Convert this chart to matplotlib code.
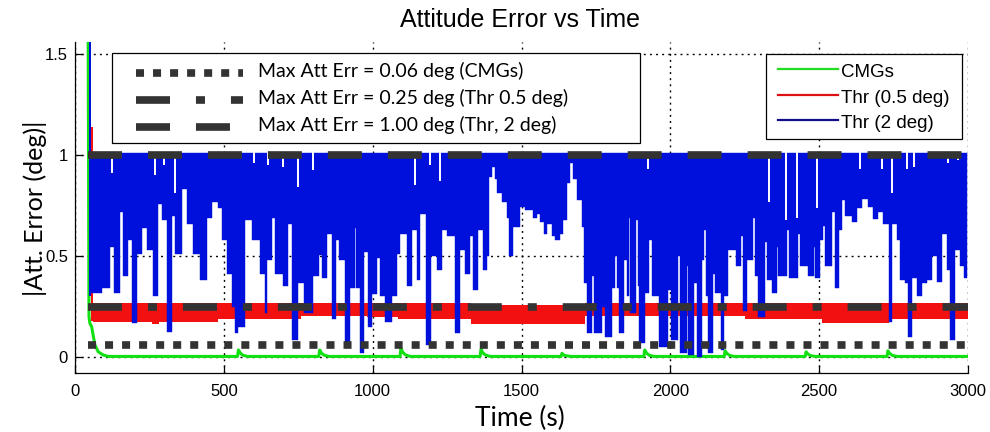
import matplotlib.pyplot as plt
from matplotlib.lines import Line2D
from matplotlib.patches import Rectangle

# =========================================================
# data
# =========================================================
# CMGs attitude error (green line)
cmg_t = [44, 47, 50, 56, 62, 67, 78, 95, 112,
         546, 549, 555, 564, 580,
         819, 822, 828, 837, 853,
         1092, 1095, 1101, 1110, 1126,
         1361, 1364, 1370, 1379, 1395,
         1633, 1636, 1642, 1651, 1667,
         1911, 1914, 1920, 1929, 1945,
         2181, 2184, 2190, 2199, 2215,
         2453, 2456, 2462, 2471, 2487,
         2728, 2731, 2737, 2746, 2762,
         3000]
cmg_err = [1.70, 0.20, 0.167, 0.15, 0.10, 0.06, 0.026, 0.01, 0.003,
           0.003, 0.035, 0.020, 0.009, 0.003,
           0.003, 0.035, 0.020, 0.009, 0.003,
           0.003, 0.043, 0.024, 0.011, 0.003,
           0.003, 0.038, 0.021, 0.010, 0.003,
           0.003, 0.018, 0.010, 0.006, 0.003,
           0.003, 0.035, 0.020, 0.009, 0.003,
           0.003, 0.031, 0.018, 0.008, 0.003,
           0.003, 0.026, 0.015, 0.007, 0.003,
           0.003, 0.031, 0.018, 0.008, 0.003,
           0.003]

# thrusters 0.5 deg (red band: min / max of the fast oscillation)
red_t = [55, 62, 258, 282, 480, 760, 980, 1085, 1330, 1714, 2251, 2509, 2733, 3000]
red_lo = [0.18, 0.175, 0.165, 0.175, 0.19, 0.205, 0.20, 0.19, 0.165, 0.205, 0.19, 0.167, 0.19, 0.19]
red_hi = [1.14, 0.268, 0.268, 0.268, 0.268, 0.27, 0.268, 0.266, 0.258, 0.266, 0.268, 0.266, 0.268, 0.268]

# thrusters 2 deg (blue: lower envelope, upper envelope ~1.01)
blue_t = [50, 90, 118, 132, 151, 162, 179, 190, 207, 224, 241, 263, 280, 293, 308,
          325, 336, 358, 375, 398, 420, 442, 459, 479, 493, 510, 526, 538, 549, 571,
          594, 622, 638, 646, 661, 672, 700, 717, 728, 750,
          769, 801, 821, 829, 846, 862, 877, 888, 907, 924, 939, 944, 958, 971, 986,
          998, 1014, 1023, 1042, 1064, 1081,
          1092, 1114, 1131, 1148, 1159, 1178, 1195, 1215, 1232, 1249, 1277, 1294, 1310,
          1327, 1338, 1355, 1372, 1383, 1392, 1400, 1411, 1419, 1434, 1450, 1459, 1471,
          1495, 1512, 1540, 1551, 1562, 1574, 1585, 1602, 1613, 1630, 1641, 1652, 1663,
          1674, 1686, 1702, 1711,
          1719, 1736, 1742, 1770, 1781, 1805, 1813, 1820, 1828, 1846, 1853, 1861, 1866,
          1885, 1891, 1896, 1915, 1930, 1937, 1962, 1992, 2003, 2027, 2033, 2055, 2061,
          2078, 2090, 2106, 2113, 2120, 2128, 2143, 2150, 2170, 2180, 2193, 2222, 2237,
          2244, 2256, 2279, 2285, 2296, 2318, 2324, 2341, 2357, 2363, 2374, 2391, 2397,
          2408, 2430, 2437, 2464, 2481, 2487, 2503, 2514, 2520, 2542, 2553, 2565, 2576,
          2587, 2609, 2626, 2643, 2665, 2682, 2699, 2716, 2733, 2744, 2761, 2772, 2789,
          2800, 2811, 2828, 2845, 2861, 2878, 2895, 2912, 2929, 2940, 2957, 2973, 2985,
          2998]
blue_lo = [0.315, 0.34, 0.546, 0.315, 0.72, 0.40, 0.58, 0.167, 0.51, 0.64, 0.53, 0.30, 0.76, 0.68, 0.125,
           0.70, 0.51, 0.83, 0.66, 0.51, 0.38, 0.69, 0.77, 0.74, 0.58, 0.41, 0.25, 0.12, 0.15, 0.68,
           0.58, 0.41, 0.22, 0.48, 0.69, 0.41, 0.35, 0.66, 0.085, 0.365,
           0.216, 0.40, 0.505, 0.39, 0.61, 0.19, 0.58, 0.48, 0.076, 0.34, 0.64, 0.34, 0.018, 0.52, 0.15,
           0.31, 0.49, 0.30, 0.175, 0.30, 0.51,
           0.61, 0.35, 0.63, 0.38, 0.71, 0.06, 0.50, 0.43, 0.63, 0.60, 0.12, 0.53, 0.41,
           0.60, 0.33, 0.63, 0.43, 0.50, 0.89, 0.94, 0.88, 0.81, 0.77, 0.69, 0.50, 0.645,
           0.745, 0.73, 0.69, 0.71, 0.67, 0.61, 0.66, 0.60, 0.58, 0.61, 0.68, 0.86, 0.96,
           0.88, 0.78, 0.645, 0.365,
           0.117, 0.40, 0.117, 0.25, 0.10, 0.34, 0.50, 0.34, 0.117, 0.48, 0.30, 0.69, 0.216,
           0.68, 0.35, 0.07, 0.315, 0.58, 0.30, 0.05, 0.33, 0.084, 0.50, 0.018, 0.45, 0.01,
           0.365, 0.0, 0.48, 0.63, 0.30, 0.018, 0.41, 0.315, 0.035, 0.30, 0.53, 0.45, 0.60,
           0.23, 0.48, 0.69, 0.40, 0.20, 0.57, 0.38, 0.315, 0.546, 0.40, 0.40, 0.63, 0.39,
           0.39, 0.61, 0.45, 0.40, 0.546, 0.39, 0.58, 0.65, 0.45, 0.72, 0.34, 0.63, 0.78,
           0.70, 0.67, 0.736, 0.785, 0.744, 0.686, 0.72, 0.66, 0.175, 0.66, 0.58, 0.38, 0.365,
           0.10, 0.39, 0.30, 0.365, 0.38, 0.50, 0.37, 0.61, 0.43, 0.084, 0.53, 0.45, 0.39,
           0.39]
blue_top = 1.012

# start-up transient of the blue run
blue_kick_t = [47, 55]
blue_kick_lo = [0.30, 0.30]
blue_kick_hi = [1.70, 1.70]

# places where the blue maximum stays below ~1 (narrow notches from the top)
notch_t = [123, 269, 300, 336, 603, 647, 700, 748, 801, 1142, 1193, 1226, 1926,
           2330, 2388, 2425, 2492, 2637, 2710, 2744, 2794, 2817, 2934, 2968]
notch_hi = [0.91, 0.90, 0.95, 0.81, 0.96, 0.95, 0.94, 0.84, 0.925, 0.85, 0.95, 0.87, 0.93,
            0.77, 0.68, 0.69, 0.74, 0.93, 0.93, 0.81, 0.93, 0.94, 0.96, 0.975]

# maximum error reference lines
ref_t = [44, 3000]
ref_levels = [0.06, 0.25, 1.00]
ref_labels = ["Max Att Err = 0.06 deg (CMGs)",
              "Max Att Err = 0.25 deg (Thr 0.5 deg)",
              "Max Att Err = 1.00 deg (Thr, 2 deg)"]
series_labels = ["CMGs", "Thr (0.5 deg)", "Thr (2 deg)"]

xticks = [0, 500, 1000, 1500, 2000, 2500, 3000]
yticks = [0, 0.5, 1, 1.5]
ytick_labels = ["0", "0.5", "1", "1.5"]

# =========================================================
# styles
# =========================================================
GREEN = "#12e012"
RED = "#f21010"
BLUE = "#0010dc"
REF = "#333333"
REF_LW = 5.5
ref_styles = [(0, (1.05, 1.18)),
              (0, (4.45, 3.40, 1.18, 3.40)),
              (0, (4.45, 3.40))]
leg2_colors = ["#22dd22", "#dd1111", "#10108c"]

W, H = 990, 432


def fx(px):
    return px / W


def fy(py):
    return 1 - py / H


fig = plt.figure(figsize=(9.9, 4.32), dpi=100)
ax = fig.add_axes([fx(75), fy(373), fx(968) - fx(75), fy(42) - fy(373)])

ax.plot(cmg_t, cmg_err, color=GREEN, lw=2.2, zorder=2)
ax.fill_between(red_t, red_lo, red_hi, step="post", color=RED, lw=0, zorder=3)
ax.fill_between(blue_t, blue_lo, blue_top, step="post", color=BLUE, lw=0.3, zorder=4)
ax.fill_between(blue_kick_t, blue_kick_lo, blue_kick_hi, color=BLUE, lw=0, zorder=4)
ax.vlines(notch_t, notch_hi, blue_top + 0.004, color="white", lw=1.4, zorder=5)

for lvl, ls in zip(ref_levels, ref_styles):
    ax.plot(ref_t, [lvl, lvl], color=REF, lw=REF_LW, ls=ls,
            dash_capstyle="butt", zorder=6)

ax.set_xlim(0, 3000)
ax.set_ylim(-0.079, 1.56)
ax.set_xticks(xticks)
ax.set_yticks(yticks)
ax.set_yticklabels(ytick_labels)
ax.tick_params(direction="in", length=6, width=0.9, labelsize=12, color="black")
ax.tick_params(axis="x", pad=8)
ax.tick_params(axis="y", pad=5)
for lab in ax.get_xticklabels() + ax.get_yticklabels():
    lab.set_family("Liberation Sans")
ax.spines["top"].set_visible(False)
ax.spines["right"].set_visible(False)
ax.spines["left"].set_linewidth(0.9)
ax.spines["bottom"].set_linewidth(0.9)
ax.set_axisbelow(True)
ax.grid(True, color="black", lw=1.0, ls=(0, (1.4, 3.0)))

# titles and axis labels
fig.text(fx(520), fy(27), "Attitude Error vs Time", family="Liberation Sans",
         fontsize=18, ha="center", va="baseline")
fig.text(fx(520), fy(426), "Time (s)", family="Lato", fontsize=19,
         ha="center", va="baseline")
fig.text(fx(35), fy(208), "|Att. Error (deg)|", family="Lato", fontsize=18,
         rotation=90, ha="center", va="center")

# legend 1: reference lines
fig.add_artist(Rectangle((fx(112), fy(143)), fx(640) - fx(112), fy(53) - fy(143),
                         transform=fig.transFigure, facecolor="white",
                         edgecolor="black", lw=0.9, zorder=10))
for row_y, ls, lab in zip([73, 100, 127], ref_styles, ref_labels):
    fig.add_artist(Line2D([fx(136), fx(243)], [fy(row_y), fy(row_y)],
                          transform=fig.transFigure, color=REF, lw=REF_LW,
                          ls=ls, dash_capstyle="butt", zorder=11))
    fig.text(fx(258), fy(row_y + 4), lab, family="Lato", fontsize=14,
             va="baseline", zorder=11)

# legend 2: series
fig.add_artist(Rectangle((fx(766), fy(139)), fx(962) - fx(766), fy(54) - fy(139),
                         transform=fig.transFigure, facecolor="white",
                         edgecolor="black", lw=0.9, zorder=10))
for row_y, col, lab in zip([69, 95, 120], leg2_colors, series_labels):
    fig.add_artist(Line2D([fx(778), fx(838)], [fy(row_y), fy(row_y)],
                          transform=fig.transFigure, color=col, lw=1.6, zorder=11))
    fig.text(fx(841), fy(row_y + 8), lab, family="Liberation Sans", fontsize=13.5,
             va="baseline", zorder=11)

fig.savefig("out.png", dpi=100)
